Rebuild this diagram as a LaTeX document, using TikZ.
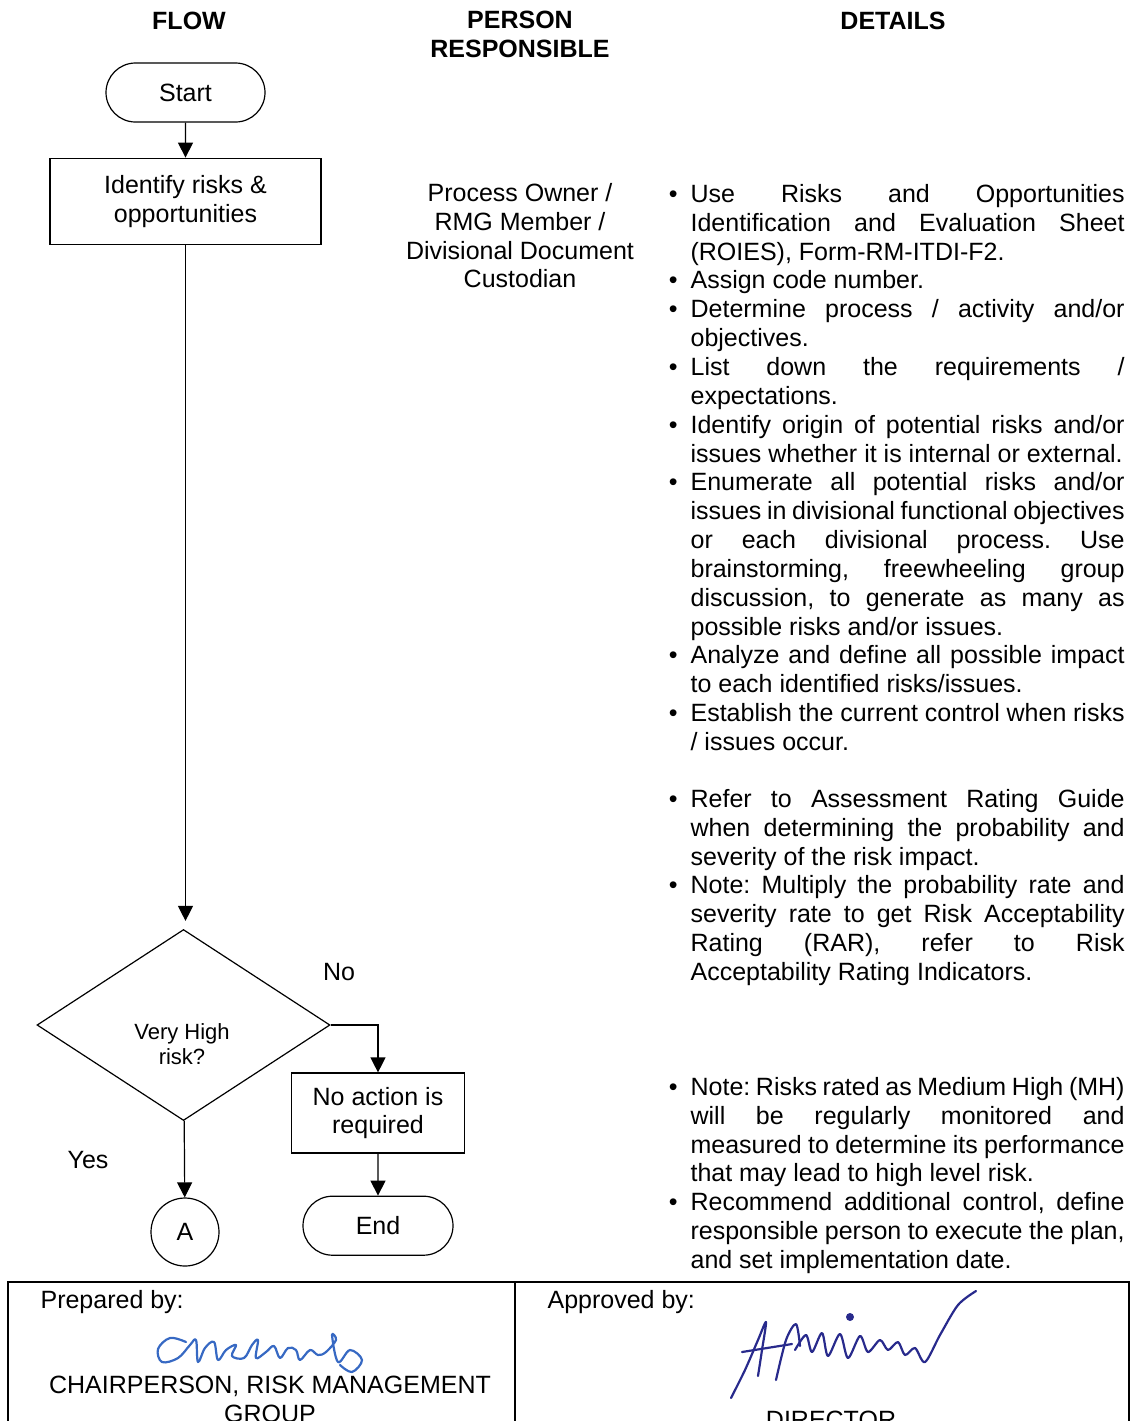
\documentclass[tikz,border=0pt]{standalone}
\usepackage{fontspec}
\setmainfont{Liberation Sans}
\usetikzlibrary{shapes.misc,
shapes.geometric,
arrows.meta,
positioning}
\definecolor{sigblue}{RGB}{55,105,195}
\definecolor{signavy}{RGB}{40,42,140}
\newcommand\bodyfont{\fontsize{12.5pt}{14.42pt}\selectfont}
\newcommand\smallbodyfont{\fontsize{11pt}{12.5pt}\selectfont}
\newenvironment{detaillist}{\frenchspacing\tolerance=10000\hbadness=10000
    \begin{list}{\textbullet}{%
        \setlength{\leftmargin}{11pt}\setlength{\labelsep}{6.5pt}%
        \setlength{\labelwidth}{4.5pt}\setlength{\itemsep}{0pt}%
        \setlength{\parsep}{0pt}\setlength{\topsep}{0pt}%
        \setlength{\partopsep}{0pt}}}
    {\end{list}}

\begin{document}
\begin{tikzpicture} [x=0.5pt, y=-0.5pt,
        >={Triangle[length=7.5pt, width=7.5pt]},
        line width=0.6pt,
        every node/.style={font=\bodyfont},
        terminal/.style={rounded rectangle, draw, inner sep=0pt,
                minimum height=29.5pt},
        process/.style={rectangle, draw, inner sep=0pt, align=center},
        decision/.style={diamond, draw, inner sep=0pt,
                minimum width=146.5pt, minimum height=95.5pt},
        connector/.style={circle, draw, inner sep=0pt, minimum size=34pt},
        head/.style={font=\bodyfont\bfseries, align=center},
        details/.style={anchor=north west, inner sep=0pt,
                text width=228pt, align=justify},
        sig/.style={line width=1.1pt, line cap=round, line join=round}]

    \useasboundingbox (0,0) rectangle (1131,1421);
    \clip (0,0) rectangle (1131,1421);

    % column headings
    \node [head, anchor=base] (flow_head) at (189,29) {FLOW};
    \node [head, anchor=north] (person_head) at (520,4) {PERSON\\RESPONSIBLE};
    \node [head, anchor=base] (details_head) at (893,29) {DETAILS};

    % flow
    \node [
        terminal,
        minimum width = 79.5pt
    ] (start) at (185.5,92.5) {Start};

    \node [
        process,
        minimum width = 135.5pt,
        minimum height = 43pt,
        below = 17.5pt of start
    ] (identify) {Identify risks \&\\opportunities};

    \node [decision] (risk) at (183.5,1025) {};
    \node [
        font = \smallbodyfont,
        align = center
    ] (risk_txt) at (182,1044) {Very High\\risk?};

    \node [
        process,
        minimum width = 86.5pt,
        minimum height = 40pt
    ] (noaction) at (378,1113) {No action is\\required};

    \node [
        terminal,
        minimum width = 75pt,
        below = 21pt of noaction
    ] (end) {End};

    \node [connector] (conA) at (185,1232) {A};

    \node (no_lbl) at (339,972) {No};
    \node (yes_lbl) at (88,1160) {Yes};

    \draw [->] (start) -- (identify);
    \draw [->, shorten >=4pt] (identify) -- (identify |- risk.north);
    \draw [->] (risk.east) -| (noaction.north);
    \draw [->] (noaction) -- (end);
    \draw [->] (risk) -- (conA);

    % person responsible
    \node [
        anchor = north,
        align = center
    ] (person) at (520,176) {Process Owner /\\RMG Member /\\Divisional Document\\Custodian};

    % details
    \node [details] (details_a) at (668,173) {%
        \begin{detaillist}
        \item Use Risks and Opportunities\linebreak Identification and Evaluation Sheet\linebreak (ROIES), Form-RM-ITDI-F2.
        \item Assign code number.
        \item Determine process / activity and/or\linebreak objectives.
        \item List down the requirements /\linebreak expectations.
        \item Identify origin of potential risks and/or\linebreak issues whether it is internal or external.
        \item Enumerate all potential risks and/or\linebreak issues in divisional functional objectives\linebreak or each divisional process. Use\linebreak brainstorming, freewheeling group\linebreak discussion, to generate as many as\linebreak possible risks and/or issues.
        \item Analyze and define all possible impact\linebreak to each identified risks/issues.
        \item Establish the current control when risks\linebreak / issues occur.
        \end{detaillist}};

    \node [details] (details_b) at (668,778) {%
        \begin{detaillist}
        \item Refer to Assessment Rating Guide\linebreak when determining the probability and\linebreak severity of the risk impact.
        \item Note: Multiply the probability rate and\linebreak severity rate to get Risk Acceptability\linebreak Rating (RAR), refer to Risk\linebreak Acceptability Rating Indicators.
        \end{detaillist}};

    \node [details] (details_c) at (668,1066) {%
        \begin{detaillist}
        \item Note: Risks rated as Medium High (MH)\linebreak will be regularly monitored and\linebreak measured to determine its performance\linebreak that may lead to high level risk.
        \item Recommend additional control, define\linebreak responsible person to execute the plan,\linebreak and set implementation date.
        \end{detaillist}};

    % sign-off table
    \draw [line width=1pt] (8,1282) rectangle (1129,1450);
    \draw [line width=1pt] (515,1282) -- (515,1450);

    \node [anchor=base west, inner sep=0pt] (prepared) at (40,1308) {Prepared by:};
    \node [anchor=base west, inner sep=0pt] (approved) at (547,1308) {Approved by:};
    \node [anchor=north, align=center] (chair) at (270,1369) {CHAIRPERSON, RISK MANAGEMENT\\GROUP};
    \node [anchor=base] (director) at (831,1428) {DIRECTOR};

    % signatures
    \draw [sig, sigblue] plot [smooth, tension=0.6] coordinates {
        (186,1342) (170,1338) (158,1349) (162,1362) (178,1358) (190,1345)
        (196,1340) (198,1362) (205,1348) (214,1342) (218,1360) (226,1350)
        (236,1345) (232,1356) (244,1358) (252,1345) (258,1340) (256,1358)
        (266,1352) (274,1346) (280,1358) (288,1348) (296,1350) (300,1360)
        (310,1350) (318,1355) (326,1352) (336,1340) (332,1335) (338,1362)
        (350,1350) (362,1360) (352,1372) (340,1365)};

    \draw [sig, signavy] plot [smooth, tension=0.5] coordinates {
        (731,1398) (745,1370) (758,1340) (766,1322) (762,1350) (758,1376)};
    \draw [sig, signavy] (742,1352) -- (792,1344);
    \draw [sig, signavy] plot [smooth, tension=0.5] coordinates {
        (776,1380) (786,1340) (796,1324) (800,1346)};
    \draw [sig, signavy] plot [smooth, tension=0.5] coordinates {
        (795,1350) (806,1335) (812,1352) (822,1333) (828,1356) (840,1334)
        (848,1358) (860,1336) (868,1352) (880,1340) (888,1350) (898,1342)
        (905,1355) (915,1348) (925,1362) (940,1335) (958,1305) (976,1291)};
    \fill [signavy] (850,1317) circle (2pt);

\end{tikzpicture}
\end{document}
